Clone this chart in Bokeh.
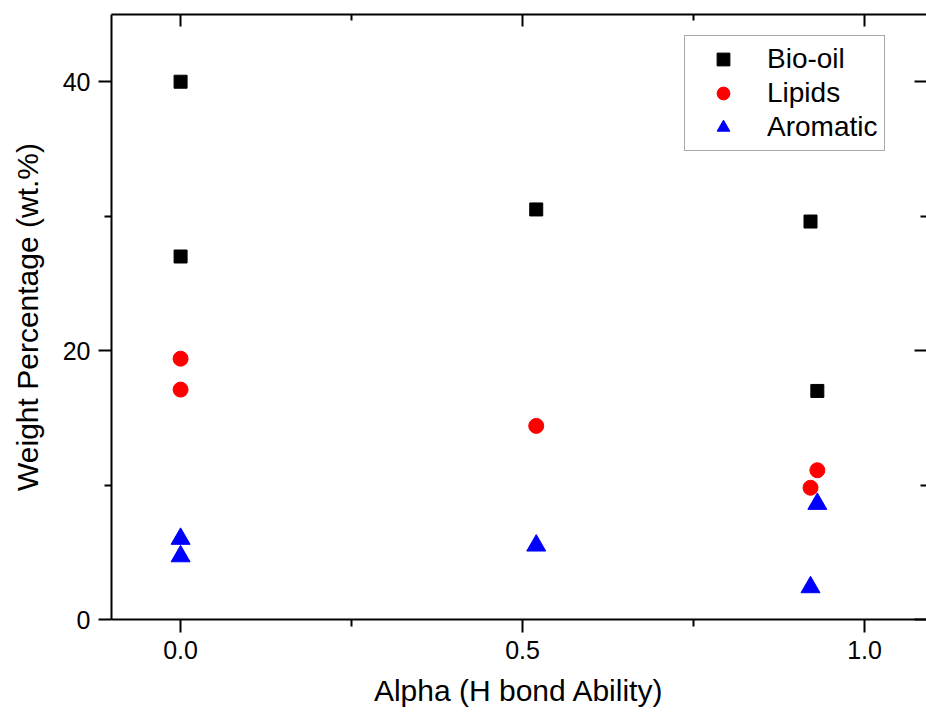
from bokeh.plotting import figure
from bokeh.models import (Range1d, LinearAxis, FixedTicker, Legend, LegendItem,
                          NumeralTickFormatter, BasicTickFormatter)
from bokeh.embed import file_html
from bokeh.resources import INLINE

# ---- data ----
bio_x = [0.0, 0.0, 0.52, 0.921, 0.931]
bio_y = [40.0, 27.0, 30.5, 29.6, 17.0]

lip_x = [0.0, 0.0, 0.52, 0.931, 0.921]
lip_y = [19.4, 17.1, 14.4, 11.1, 9.8]

aro_x = [0.0, 0.0, 0.52, 0.931, 0.921]
aro_y = [6.0, 4.7, 5.5, 8.6, 2.4]

series_names = ["Bio-oil", "Lipids", "Aromatic"]

x_major = [0.0, 0.5, 1.0]
x_minor = [0.25, 0.75]
x_labels = ["0.0", "0.5", "1.0"]
y_major = [0, 20, 40]
y_minor = [10, 30]
y_labels = ["0", "20", "40"]

x_title = "Alpha (H bond Ability)"
y_title = "Weight Percentage (wt.%)"

FONT = "Liberation Sans"

p = figure(width=926, height=720,
           x_range=Range1d(-0.101, 1.0906), y_range=Range1d(0, 45),
           output_backend="svg", toolbar_location=None,
           x_axis_location=None, y_axis_location=None,
           min_border_left=111, min_border_right=0,
           min_border_top=14, min_border_bottom=101)
p.outline_line_color = None
p.background_fill_color = "white"
p.border_fill_color = "white"
p.grid.grid_line_color = None

xt = FixedTicker(ticks=x_major, minor_ticks=x_minor)
yt = FixedTicker(ticks=y_major, minor_ticks=y_minor)


def style(ax):
    ax.axis_line_width = 2
    ax.axis_line_color = "black"
    ax.major_tick_line_width = 2
    ax.minor_tick_line_width = 2
    ax.major_tick_line_color = "black"
    ax.minor_tick_line_color = "black"
    ax.major_label_text_font = FONT
    ax.major_label_text_font_size = "25px"
    ax.major_label_text_color = "black"
    ax.axis_label_text_font = FONT
    ax.axis_label_text_font_size = "30px"
    ax.axis_label_text_font_style = "normal"
    ax.axis_label_text_color = "black"


xb = LinearAxis(ticker=xt, formatter=NumeralTickFormatter(format="0.0"),
                major_label_overrides=dict(zip(x_major, x_labels)),
                axis_label=x_title)
style(xb)
xb.major_tick_out = 13
xb.major_tick_in = 0
xb.minor_tick_out = 7
xb.minor_tick_in = 0
xb.major_label_standoff = 8
xb.axis_label_standoff = 12
p.add_layout(xb, "below")

yl = LinearAxis(ticker=yt, formatter=BasicTickFormatter(),
                major_label_overrides=dict(zip(y_major, y_labels)),
                axis_label=y_title)
style(yl)
yl.major_tick_out = 13
yl.major_tick_in = 0
yl.minor_tick_out = 7
yl.minor_tick_in = 0
yl.major_label_standoff = 8
yl.axis_label_standoff = 16
p.add_layout(yl, "left")

xtop = LinearAxis(ticker=xt)
style(xtop)
xtop.major_tick_in = 12
xtop.major_tick_out = 0
xtop.minor_tick_in = 6
xtop.minor_tick_out = 0
xtop.major_label_text_font_size = "1px"
xtop.major_label_text_color = None
xtop.major_label_standoff = 0
p.add_layout(xtop, "above")

yr = LinearAxis(ticker=yt)
style(yr)
yr.axis_line_color = None
yr.major_tick_in = 12
yr.major_tick_out = 0
yr.minor_tick_in = 6
yr.minor_tick_out = 0
yr.major_label_text_font_size = "1px"
yr.major_label_text_color = None
yr.major_label_standoff = 0
p.add_layout(yr, "right")

r1 = p.scatter(bio_x, bio_y, marker="square", size=13,
               fill_color="black", line_color="black")
r2 = p.scatter(lip_x, lip_y, marker="circle", size=15,
               fill_color="#ff0000", line_color="#ff0000")
r3 = p.scatter(aro_x, aro_y, marker="triangle", size=19,
               fill_color="#0000ff", line_color="#0000ff")

legend = Legend(items=[LegendItem(label=series_names[0], renderers=[r1]),
                       LegendItem(label=series_names[1], renderers=[r2]),
                       LegendItem(label=series_names[2], renderers=[r3])],
                location=(573, 468), orientation="vertical",
                border_line_color="#555555", border_line_width=1.5,
                background_fill_color="white", background_fill_alpha=1,
                label_text_font=FONT, label_text_font_size="28px",
                label_text_color="black",
                glyph_height=32, glyph_width=62, label_height=32,
                spacing=2, padding=7, label_standoff=13, margin=0)
p.add_layout(legend)

open("out.html", "w").write(file_html(p, INLINE))
